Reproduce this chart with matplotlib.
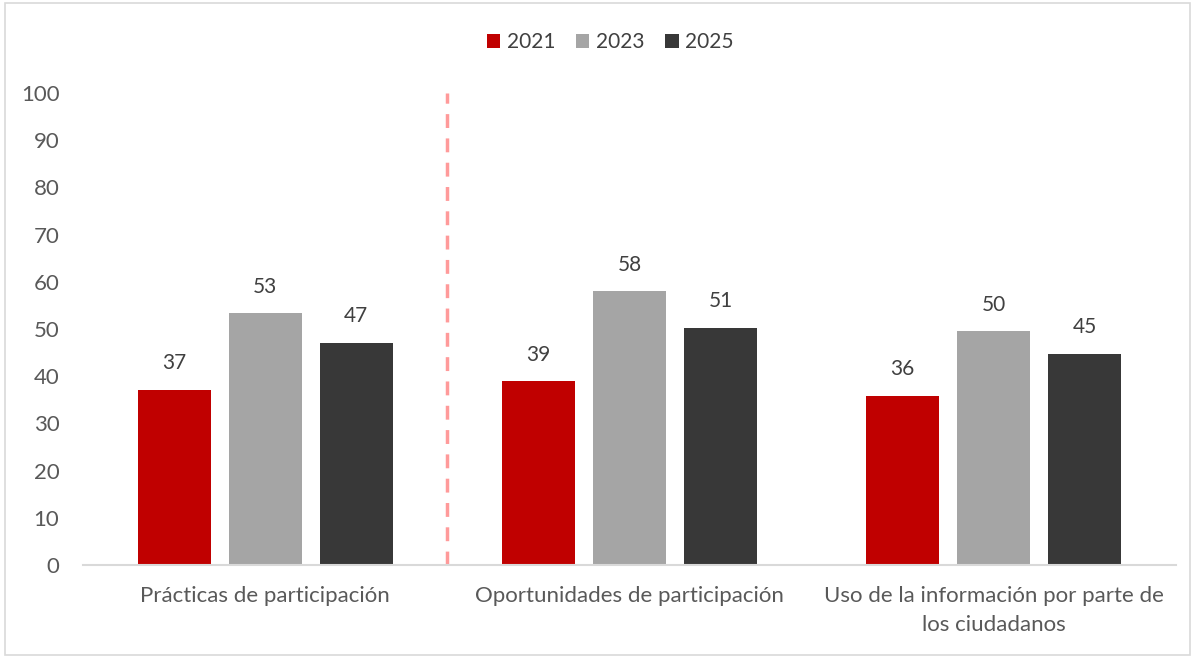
import numpy as np
import matplotlib.pyplot as plt
from matplotlib.patches import Rectangle

plt.rcParams['font.family'] = ['Lato', 'DejaVu Sans']

categorias = ['Prácticas de participación', 'Oportunidades de participación',
              'Uso de la información por parte de\nlos ciudadanos']
anios = ['2021', '2023', '2025']
v2021 = [37.1, 38.9, 35.8]
v2023 = [53.3, 58.0, 49.5]
v2025 = [47.1, 50.3, 44.8]
etiq2021 = [37, 39, 36]
etiq2023 = [53, 58, 50]
etiq2025 = [47, 51, 45]
colores = ['#c00000', '#a5a5a5', '#383838']

fig = plt.figure(figsize=(11.96, 6.58), dpi=100)
ax = fig.add_axes([83/1196, 1-565/658, (1176-83)/1196, (565-93)/658])

# marco exterior
fig.patches.append(Rectangle((5/1196, 3/658), 1185/1196, 652/658, transform=fig.transFigure,
                             fill=False, edgecolor='#d9d9d9', linewidth=1.2))

x = np.arange(len(categorias))
w = 0.2
series = [v2021, v2023, v2025]
etiquetas = [etiq2021, etiq2023, etiq2025]
for i, (vals, labs) in enumerate(zip(series, etiquetas)):
    pos = x + (i - 1) * 0.25
    ax.bar(pos, vals, w, color=colores[i], label=anios[i])
    for px, v, l in zip(pos, vals, labs):
        ax.annotate(str(l), (px, v), xytext=(0, 12), textcoords='offset points',
                    ha='center', va='bottom', fontsize=15, color='#404040')

# separador
ax.plot([0.5, 0.5], [0, 100], linestyle=(0, (4, 3)), color='#ff9a9a', linewidth=2.5)

ax.set_xlim(-0.5, 2.5)
ax.set_ylim(0, 100)
ax.set_yticks(range(0, 101, 10))
ax.set_xticks(x)
ax.set_xticklabels(categorias, linespacing=1.6)
ax.tick_params(axis='y', length=0, labelsize=16, labelcolor='#595959', pad=17)
ax.tick_params(axis='x', length=0, labelsize=16, labelcolor='#595959', pad=15)
for s in ['top', 'right', 'left']:
    ax.spines[s].set_visible(False)
ax.spines['bottom'].set_color('#d9d9d9')
ax.spines['bottom'].set_linewidth(1.5)

leg = fig.legend(loc='center', bbox_to_anchor=(610/1196, 1-42/658), ncol=3, frameon=False,
                 fontsize=15, handlelength=0.65, handleheight=0.65, handletextpad=0.3,
                 columnspacing=1.0)
for t in leg.get_texts():
    t.set_color('#404040')

plt.savefig('out.png', dpi=100)
